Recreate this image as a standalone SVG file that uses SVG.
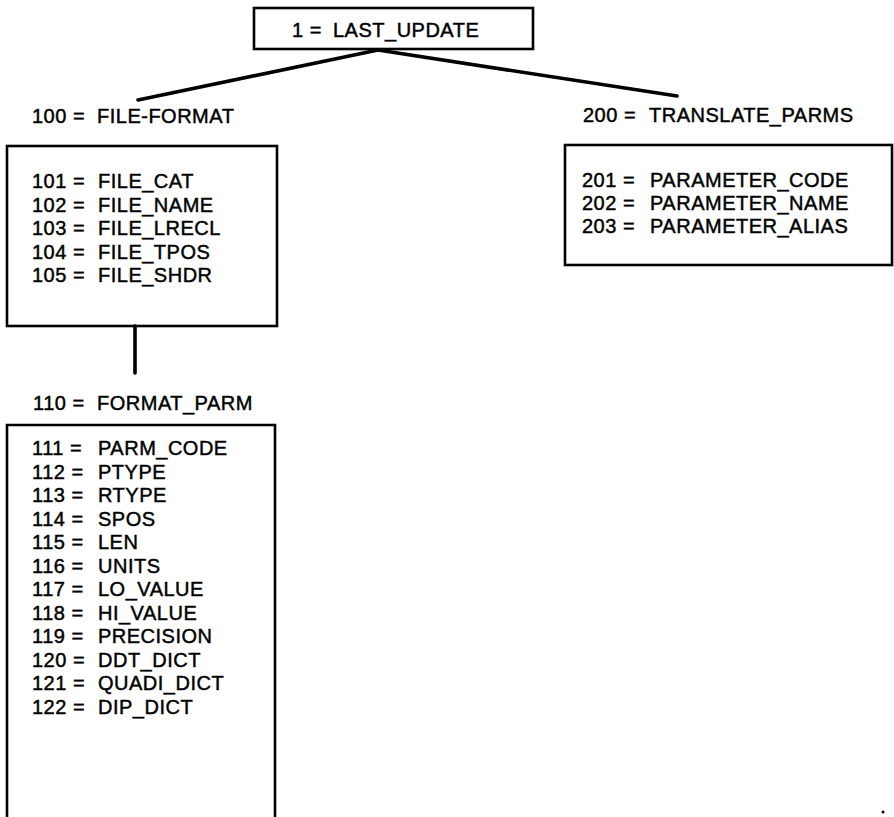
<svg xmlns="http://www.w3.org/2000/svg" width="894" height="817" viewBox="0 0 894 817">
<style>
.box{fill:none;stroke:#000;stroke-width:2.6}
.ln{fill:none;stroke:#000;stroke-width:3.6;stroke-linecap:round}
text{font-family:"Liberation Sans",Arial,Helvetica,sans-serif;font-size:20px;letter-spacing:0.5px;fill:#000;stroke:#000;stroke-width:0.45}
</style>
<rect width="894" height="817" fill="#fff"/>
<g id="connectors">
<line class="ln" x1="378" y1="50" x2="138" y2="100"/>
<line class="ln" x1="378" y1="50" x2="677" y2="96"/>
<line class="ln" x1="135" y1="326" x2="135" y2="373"/>
</g>
<g id="n1">
<rect class="box" x="254" y="8" width="279" height="41"/>
<text x="292" y="37">1 =</text><text x="333" y="37">LAST_UPDATE</text>
</g>
<g id="n100">
<text x="32" y="123">100 =</text><text x="97" y="123">FILE-FORMAT</text>
</g>
<g id="n100box">
<rect class="box" x="7" y="146" width="270" height="180"/>
<text x="32" y="188">101 =</text><text x="98" y="188">FILE_CAT</text>
<text x="32" y="211.5">102 =</text><text x="98" y="211.5">FILE_NAME</text>
<text x="32" y="235">103 =</text><text x="98" y="235">FILE_LRECL</text>
<text x="32" y="258.5">104 =</text><text x="98" y="258.5">FILE_TPOS</text>
<text x="32" y="282">105 =</text><text x="98" y="282">FILE_SHDR</text>
</g>
<g id="n110">
<text x="33" y="410">110 =</text><text x="97" y="410">FORMAT_PARM</text>
</g>
<g id="n110box">
<path class="box" d="M7,817 V425 H275 V817"/>
<text x="32" y="455">111 =</text><text x="98" y="455">PARM_CODE</text>
<text x="32" y="478.5">112 =</text><text x="98" y="478.5">PTYPE</text>
<text x="32" y="502">113 =</text><text x="98" y="502">RTYPE</text>
<text x="32" y="525.5">114 =</text><text x="98" y="525.5">SPOS</text>
<text x="32" y="549">115 =</text><text x="98" y="549">LEN</text>
<text x="32" y="572.5">116 =</text><text x="98" y="572.5">UNITS</text>
<text x="32" y="596">117 =</text><text x="98" y="596">LO_VALUE</text>
<text x="32" y="619.5">118 =</text><text x="98" y="619.5">HI_VALUE</text>
<text x="32" y="643">119 =</text><text x="98" y="643">PRECISION</text>
<text x="32" y="666.5">120 =</text><text x="98" y="666.5">DDT_DICT</text>
<text x="32" y="690">121 =</text><text x="98" y="690">QUADI_DICT</text>
<text x="32" y="713.5">122 =</text><text x="98" y="713.5">DIP_DICT</text>
</g>
<g id="n200">
<text x="583" y="122">200 =</text><text x="649" y="122">TRANSLATE_PARMS</text>
</g>
<g id="n200box">
<rect class="box" x="565" y="145" width="327" height="120"/>
<text x="582" y="187">201 =</text><text x="650" y="187">PARAMETER_CODE</text>
<text x="582" y="210">202 =</text><text x="650" y="210">PARAMETER_NAME</text>
<text x="582" y="233">203 =</text><text x="650" y="233">PARAMETER_ALIAS</text>
</g>
<circle cx="883" cy="812" r="1.5" fill="#000"/>
</svg>
